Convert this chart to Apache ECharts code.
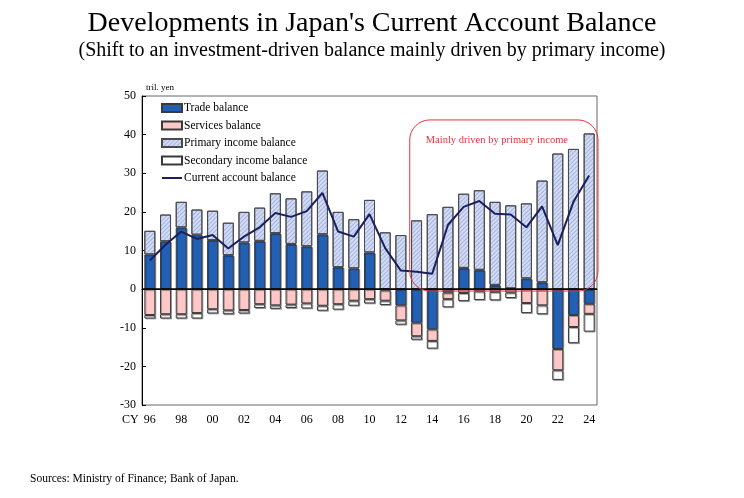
<!DOCTYPE html>
<html>
<head>
<meta charset="utf-8">
<script src="https://cdn.jsdelivr.net/npm/echarts@6/dist/echarts.min.js"></script>
<style>
  html, body { margin: 0; padding: 0; background: #fff; }
  #chart_wrap { width: 744px; height: 498px; }
</style>
</head>
<body>
<div id="chart_wrap"></div>
<script>
var years = ['96', '97', '98', '99', '00', '01', '02', '03', '04', '05', '06', '07', '08', '09',
    '10', '11', '12', '13', '14', '15', '16', '17', '18', '19', '20', '21', '22', '23', '24'];

// tril. yen
var trade = [9.0, 12.4, 16.0, 14.1, 12.7, 8.8, 12.1, 12.5, 14.5, 11.7, 11.1, 14.2, 5.7, 5.4,
    9.5, -0.3, -4.2, -8.7, -10.4, -0.9, 5.5, 5.0, 1.1, 0.2, 2.8, 1.8, -15.5, -6.7, -3.8];
var services = [-6.7, -6.5, -6.5, -6.2, -5.2, -5.5, -5.4, -3.9, -4.2, -4.0, -3.7, -4.3, -3.9, -3.0,
    -2.6, -2.7, -3.9, -3.5, -3.0, -1.7, -1.0, -0.6, -0.7, -0.9, -3.6, -4.2, -5.5, -3.1, -2.6];
var primary = [6.1, 6.9, 6.6, 6.5, 7.6, 8.4, 7.9, 8.6, 10.3, 11.8, 14.2, 16.5, 14.3, 12.7,
    13.6, 14.7, 14.0, 17.8, 19.4, 21.3, 19.2, 20.6, 21.5, 21.5, 19.4, 26.3, 35.1, 36.3, 40.3];
var secondary = [-0.9, -1.1, -1.1, -1.4, -1.1, -1.0, -0.9, -1.0, -0.9, -0.9, -1.3, -1.3, -1.4, -1.3,
    -1.1, -1.1, -1.1, -0.9, -2.0, -2.1, -2.1, -2.2, -2.2, -1.4, -2.6, -2.3, -2.5, -4.2, -4.6];
var currentAccount = [7.4, 11.5, 14.9, 13.0, 14.0, 10.5, 13.6, 16.0, 19.7, 18.7, 20.2, 24.9, 14.9, 13.6,
    19.4, 10.6, 4.8, 4.5, 4.0, 16.6, 21.3, 22.8, 19.5, 19.3, 16.0, 21.4, 11.4, 22.6, 29.4];

var serif = 'Liberation Serif';

var chart_wrap = document.getElementById('chart_wrap');
var chart = echarts.init(chart_wrap);

var barStyle = function (color) {
    return {
        color: color,
        borderColor: '#3a3a3a',
        borderWidth: 1,
        shadowColor: 'rgba(0,0,0,0.3)',
        shadowOffsetX: 1,
        shadowOffsetY: 1,
        shadowBlur: 0
    };
};

// hatched bars: no shadow, otherwise the hatch strokes pick it up and go dark
var primaryStyle = {
    color: '#d4dcf4',
    borderColor: '#4a4a4a',
    borderWidth: 1,
    decal: {
        symbol: 'rect',
        symbolSize: 1,
        dashArrayX: [[1, 0]],
        dashArrayY: [1, 2],
        rotation: -Math.PI / 4,
        color: 'rgba(130,150,215,0.6)'
    }
};

var option = {
    backgroundColor: '#fff',
    animation: false,
    textStyle: { fontFamily: serif },
    title: {
        text: "Developments in Japan's Current Account Balance",
        subtext: '(Shift to an investment-driven balance mainly driven by primary income)',
        left: 'center',
        top: 5,
        itemGap: 3,
        textStyle: { fontFamily: serif, fontSize: 28, fontWeight: 'normal', color: '#000' },
        subtextStyle: { fontFamily: serif, fontSize: 20, color: '#000' }
    },
    legend: {
        orient: 'vertical',
        left: 161,
        top: 102,
        padding: 0,
        itemWidth: 20,
        itemHeight: 8,
        itemGap: 5.5,
        textStyle: { fontFamily: serif, fontSize: 11.5, color: '#000', padding: [0, 0, 0, -3] },
        data: [
            { name: 'Trade balance', icon: 'rect' },
            { name: 'Services balance', icon: 'rect' },
            { name: 'Primary income balance', icon: 'rect' },
            { name: 'Secondary income balance', icon: 'rect' },
            { name: 'Current account balance', itemStyle: { opacity: 0 } }
        ]
    },
    grid: {
        left: 142,
        right: 147,
        top: 96,
        bottom: 93,
        show: true,
        borderColor: '#666',
        borderWidth: 1
    },
    xAxis: {
        type: 'category',
        data: years,
        axisLine: { lineStyle: { color: '#000' } },
        axisTick: { inside: true, length: 4, lineStyle: { color: '#000' } },
        axisLabel: { interval: 1, fontFamily: serif, fontSize: 12, color: '#000', margin: 9 }
    },
    yAxis: {
        type: 'value',
        min: -30,
        max: 50,
        interval: 10,
        name: 'tril. yen',
        nameGap: 4,
        nameTextStyle: { fontFamily: serif, fontSize: 9, color: '#000', align: 'left', padding: [0, 0, 0, 4] },
        axisLine: { show: true, lineStyle: { color: '#000' } },
        axisTick: { show: true, inside: true, length: 4, lineStyle: { color: '#000' } },
        axisLabel: { fontFamily: serif, fontSize: 12, color: '#000', margin: 6 },
        splitLine: { show: false }
    },
    series: [
        {
            name: 'Trade balance',
            type: 'bar',
            stack: 'total',
            barWidth: 11,
            data: trade,
            itemStyle: barStyle('#2260b6'),
            markLine: {
                silent: true,
                symbol: 'none',
                label: { show: false },
                lineStyle: { color: '#000', width: 1.5, type: 'solid' },
                data: [{ yAxis: 0 }]
            }
        },
        {
            name: 'Services balance',
            type: 'bar',
            stack: 'total',
            data: services,
            itemStyle: barStyle('#ffc8c8')
        },
        {
            name: 'Primary income balance',
            type: 'bar',
            stack: 'total',
            data: primary,
            itemStyle: primaryStyle
        },
        {
            name: 'Secondary income balance',
            type: 'bar',
            stack: 'total',
            data: secondary,
            itemStyle: barStyle('#ffffff')
        },
        {
            name: 'Current account balance',
            type: 'line',
            data: currentAccount,
            symbol: 'none',
            z: 5,
            lineStyle: { color: '#1b1f5e', width: 2 },
            itemStyle: { color: '#1b1f5e' }
        }
    ]
};
chart.setOption(option);

// annotation box around the primary-income-driven period, placed through the axes
var x0 = chart.convertToPixel({ xAxisIndex: 0 }, '12');
var x1 = chart.convertToPixel({ xAxisIndex: 0 }, '13');
var xEnd = chart.convertToPixel({ xAxisIndex: 0 }, '24');
var step = x1 - x0;
var boxLeft = (x0 + x1) / 2 + 1;
var boxRight = xEnd + step / 2 + 1;
var boxTop = chart.convertToPixel({ yAxisIndex: 0 }, 43.8);
var boxBottom = chart.convertToPixel({ yAxisIndex: 0 }, -0.5);

chart.setOption({
    graphic: [
        {
            type: 'rect',
            shape: { x: boxLeft, y: boxTop, width: boxRight - boxLeft, height: boxBottom - boxTop, r: 20 },
            style: { fill: null, stroke: '#e8333c', lineWidth: 1 },
            z: 10
        },
        {
            type: 'text',
            left: boxLeft + 16,
            top: boxTop + 15,
            style: { text: 'Mainly driven by primary income', fill: '#e8333c', font: '10.5px "Liberation Serif"' },
            z: 10
        },
        {
            type: 'text',
            left: 122,
            top: 414,
            style: { text: 'CY', fill: '#000', font: '12px "Liberation Serif"' }
        },
        {
            type: 'text',
            left: 30,
            top: 473,
            style: { text: 'Sources: Ministry of Finance; Bank of Japan.', fill: '#000', font: '11.5px "Liberation Serif"' }
        }
    ]
});
</script>
</body>
</html>
